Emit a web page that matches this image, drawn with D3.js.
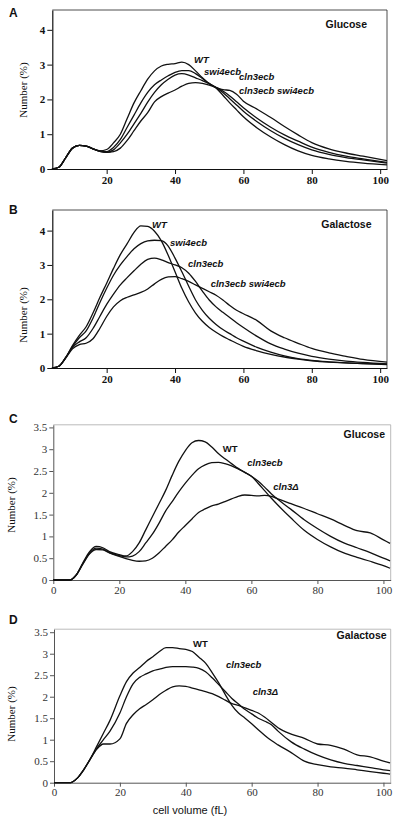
<!DOCTYPE html>
<html><head><meta charset="utf-8">
<script src="https://cdn.jsdelivr.net/npm/d3@7"></script>
<style>html,body{margin:0;padding:0;background:#fff;}svg{display:block;}</style>
</head><body>
<svg id="chart" width="400" height="822"></svg>
<script>
// ---------- DATA ----------
const xAB = [4,6,8,10,12,14,16,18,20,22,24,26,28,30,32,34,36,38,40,42,44,46,48,50,52,54,56,58,60,64,68,72,76,80,85,90,95,102];
const aWT      = [0,0.05,0.32,0.6,0.68,0.66,0.58,0.52,0.56,0.75,1.0,1.45,1.9,2.25,2.58,2.82,2.96,3.01,3.03,3.07,3.0,2.82,2.62,2.45,2.33,2.12,1.9,1.7,1.5,1.18,0.92,0.7,0.52,0.39,0.29,0.22,0.17,0.12];
const aSwi4    = [0,0.05,0.32,0.6,0.68,0.66,0.58,0.52,0.5,0.62,0.85,1.2,1.55,1.9,2.2,2.42,2.56,2.68,2.78,2.83,2.83,2.74,2.6,2.46,2.34,2.2,2.02,1.84,1.66,1.36,1.1,0.88,0.7,0.55,0.42,0.33,0.26,0.17];
const aCln3    = [0,0.05,0.32,0.6,0.68,0.66,0.58,0.51,0.48,0.55,0.75,1.0,1.3,1.6,1.92,2.2,2.42,2.58,2.7,2.74,2.7,2.62,2.54,2.45,2.35,2.24,2.1,1.93,1.76,1.46,1.2,0.98,0.8,0.63,0.48,0.37,0.29,0.19];
const aDouble  = [0,0.05,0.32,0.6,0.68,0.66,0.58,0.51,0.48,0.5,0.6,0.82,1.1,1.38,1.62,1.93,2.08,2.18,2.27,2.38,2.46,2.48,2.46,2.41,2.34,2.28,2.26,2.15,1.95,1.72,1.48,1.22,0.98,0.76,0.58,0.46,0.37,0.24];

const bWT      = [0,0.05,0.3,0.65,0.95,1.2,1.6,2.05,2.47,2.9,3.3,3.62,3.95,4.14,4.12,3.98,3.7,3.28,2.8,2.32,1.92,1.6,1.36,1.18,1.04,0.92,0.82,0.72,0.63,0.5,0.4,0.32,0.26,0.21,0.17,0.15,0.13,0.1];
const bSwi4    = [0,0.05,0.3,0.62,0.88,1.08,1.45,1.9,2.32,2.7,3.0,3.25,3.47,3.62,3.7,3.72,3.71,3.55,3.2,2.8,2.38,1.98,1.68,1.45,1.27,1.12,1.0,0.88,0.78,0.6,0.46,0.35,0.27,0.22,0.18,0.15,0.13,0.11];
const bCln3    = [0,0.05,0.3,0.6,0.76,0.88,1.15,1.5,1.85,2.15,2.42,2.63,2.83,3.02,3.16,3.2,3.15,3.07,3.0,2.92,2.76,2.52,2.24,1.98,1.78,1.62,1.47,1.32,1.18,0.92,0.7,0.55,0.43,0.34,0.26,0.2,0.16,0.12];
const bDouble  = [0,0.05,0.28,0.56,0.68,0.72,0.85,1.15,1.5,1.78,1.96,2.06,2.13,2.2,2.3,2.45,2.58,2.65,2.66,2.6,2.52,2.42,2.32,2.22,2.12,1.98,1.82,1.68,1.58,1.38,1.08,0.88,0.72,0.57,0.44,0.34,0.25,0.17];

const xCD = [0,5,7,9,11,13,15,17,20,22,24,26,28,30,32,34,36,38,40,42,44,46,48,50,52,54,56,58,60,62,64,66,68,72,76,80,84,88,92,96,100,102];
const cWT      = [0,0,0.12,0.4,0.65,0.77,0.74,0.65,0.58,0.55,0.65,0.85,1.15,1.45,1.75,2.05,2.4,2.72,2.97,3.15,3.2,3.17,3.05,2.9,2.78,2.67,2.56,2.47,2.38,2.22,2.05,1.88,1.72,1.42,1.14,0.93,0.76,0.62,0.52,0.43,0.33,0.27];
const cCln3ecb = [0,0,0.12,0.38,0.62,0.73,0.71,0.63,0.56,0.53,0.55,0.65,0.85,1.05,1.3,1.58,1.8,2.02,2.22,2.4,2.55,2.64,2.69,2.7,2.67,2.62,2.55,2.47,2.38,2.27,2.13,1.98,1.85,1.62,1.38,1.18,1.0,0.85,0.74,0.63,0.5,0.44];
const cCln3d   = [0,0,0.12,0.37,0.6,0.7,0.69,0.62,0.54,0.49,0.45,0.43,0.44,0.5,0.62,0.77,0.92,1.1,1.25,1.4,1.55,1.63,1.7,1.74,1.8,1.86,1.92,1.95,1.94,1.93,1.94,1.92,1.86,1.75,1.64,1.52,1.4,1.26,1.13,1.08,0.92,0.84];

const dWT      = [0,0,0.1,0.3,0.55,0.85,1.15,1.45,2.02,2.35,2.55,2.68,2.82,2.93,3.05,3.14,3.14,3.12,3.1,3.05,2.92,2.78,2.56,2.32,2.05,1.8,1.62,1.5,1.37,1.23,1.1,0.98,0.88,0.7,0.5,0.42,0.37,0.34,0.3,0.26,0.22,0.2];
const dCln3ecb = [0,0,0.1,0.3,0.55,0.8,1.0,1.2,1.62,2.0,2.3,2.45,2.53,2.6,2.64,2.68,2.7,2.7,2.7,2.69,2.66,2.58,2.44,2.28,2.12,1.96,1.83,1.7,1.6,1.5,1.43,1.35,1.2,0.95,0.78,0.64,0.53,0.45,0.4,0.35,0.3,0.28];
const dCln3d   = [0,0,0.1,0.3,0.55,0.78,0.9,0.9,1.02,1.38,1.58,1.72,1.82,1.93,2.05,2.15,2.23,2.25,2.24,2.2,2.16,2.12,2.07,2.0,1.92,1.84,1.8,1.74,1.68,1.62,1.52,1.4,1.28,1.13,1.03,0.9,0.87,0.78,0.65,0.6,0.5,0.46];

const ticksAB_y = [0,1,2,3,4];
const ticks_x_AB = [20,40,60,80,100];
const ticksCD_y = [0,0.5,1,1.5,2,2.5,3,3.5];
const ticks_x_CD = [0,20,40,60,80,100];

const seriesA = [aWT, aSwi4, aCln3, aDouble];
const seriesB = [bWT, bSwi4, bCln3, bDouble];
const seriesC = [cWT, cCln3ecb, cCln3d];
const seriesD = [dWT, dCln3ecb, dCln3d];

const labelsAB = ["WT","swi4ecb","cln3ecb","cln3ecb swi4ecb"];
const labelsCD = ["WT","cln3ecb","cln3\u0394"];

// ---------- DRAW ----------
const svg = d3.select("#chart");
const SANS = "'Liberation Sans', Arial, Helvetica, sans-serif";
const SERIF = "'Liberation Serif', 'Times New Roman', serif";

function panel(cfg){
  const g = svg.append("g");
  const x = d3.scaleLinear().domain(cfg.xd).range(cfg.xr);
  const y = d3.scaleLinear().domain(cfg.yd).range(cfg.yr);
  g.append("path")
    .attr("d", `M${cfg.xr[0]},${cfg.yr[1]}H${cfg.xr[1]}V${cfg.yr[0]}`)
    .attr("fill","none").attr("stroke", cfg.frame).attr("stroke-width", cfg.frameW);
  const ax = g.append("g").attr("transform",`translate(0,${cfg.yr[0]})`)
    .call(d3.axisBottom(x).tickValues(cfg.xt).tickSize(cfg.tick).tickSizeOuter(0).tickPadding(2).tickFormat(d3.format("")));
  const ay = g.append("g").attr("transform",`translate(${cfg.xr[0]},0)`)
    .call(d3.axisLeft(y).tickValues(cfg.yt).tickSize(cfg.tick).tickSizeOuter(0).tickPadding(2).tickFormat(d=>String(d)));
  [ax, ay].forEach(a=>{
    a.selectAll("path.domain").attr("stroke", cfg.axisColor).attr("stroke-width", cfg.axisW);
    a.selectAll(".tick line").attr("stroke", cfg.axisColor).attr("stroke-width", 1);
    a.selectAll(".tick text").attr("font-family", SERIF).attr("font-size", cfg.tickFont)
      .attr("fill", cfg.tickColor).attr("font-weight", cfg.tickWeight);
  });
  g.append("text").attr("transform",`translate(${cfg.ylx},${cfg.yly}) rotate(-90)`)
    .attr("text-anchor","middle").attr("font-family",SERIF).attr("font-size",cfg.ylFont)
    .attr("fill","#111").text("Number (%)");
  const line = d3.line().x((d,i)=>x(cfg.xs[i])).y(d=>y(d)).curve(d3.curveMonotoneX);
  cfg.series.forEach(s=>{
    g.append("path").datum(s).attr("d", line).attr("fill","none")
      .attr("stroke","#111").attr("stroke-width",1.3).attr("stroke-linejoin","round");
  });
  cfg.labels.forEach((t,i)=>{
    g.append("text").attr("x", cfg.lp[i][0]).attr("y", cfg.lp[i][1])
      .attr("font-family",SANS).attr("font-size",cfg.labFont).attr("font-weight","bold")
      .attr("font-style", (cfg.italicWT || i>0) ? "italic" : "normal")
      .attr("fill","#111").text(t);
  });
  g.append("text").attr("x", cfg.cond[0]).attr("y", cfg.cond[1]).attr("text-anchor","end")
    .attr("font-family",SANS).attr("font-size",10.5).attr("font-weight","bold").attr("fill","#111").text(cfg.condText);
  g.append("text").attr("x", 9).attr("y", cfg.letterY)
    .attr("font-family",SANS).attr("font-size",12).attr("font-weight","bold").attr("fill","#111").text(cfg.letter);
}

panel({letter:"A", letterY:17, xs:xAB, series:seriesA, labels:labelsAB,
  xd:[4.1,102], xr:[52.3,387], yd:[0,4.57], yr:[169,10], xt:ticks_x_AB, yt:ticksAB_y,
  tick:5, frame:"#222", frameW:0.8, axisColor:"#111", axisW:1.2, tickFont:11, tickColor:"#111", tickWeight:"bold",
  ylx:27, yly:90, ylFont:11, labFont:9.5, italicWT:true,
  lp:[[194,62.5],[204,74.5],[239,80],[239,94]], cond:[367,28], condText:"Glucose"});

panel({letter:"B", letterY:214, xs:xAB, series:seriesB, labels:labelsAB,
  xd:[4.1,102], xr:[52.3,387], yd:[0,4.6], yr:[368,210], xt:ticks_x_AB, yt:ticksAB_y,
  tick:5, frame:"#222", frameW:0.8, axisColor:"#111", axisW:1.2, tickFont:11, tickColor:"#111", tickWeight:"bold",
  ylx:27, yly:315, ylFont:11, labFont:9.5, italicWT:true,
  lp:[[152,228],[170,245.5],[188,267],[210.7,286.5]], cond:[371.5,227.5], condText:"Galactose"});

panel({letter:"C", letterY:423, xs:xCD, series:seriesC, labels:labelsCD,
  xd:[0,102.2], xr:[53.3,390.7], yd:[0,3.56], yr:[580,424.8], xt:ticks_x_CD, yt:ticksCD_y,
  tick:4, frame:"#aaa", frameW:0.8, axisColor:"#555", axisW:1, tickFont:11, tickColor:"#333", tickWeight:"normal",
  ylx:15, yly:505, ylFont:11, labFont:9.5, italicWT:false,
  lp:[[222.7,452],[247.3,466],[273.3,490]], cond:[385,438], condText:"Glucose"});

panel({letter:"D", letterY:624, xs:xCD, series:seriesD, labels:labelsCD,
  xd:[0,102.2], xr:[54,390.7], yd:[0,3.57], yr:[782.7,629.2], xt:ticks_x_CD, yt:ticksCD_y,
  tick:4, frame:"#aaa", frameW:0.8, axisColor:"#555", axisW:1, tickFont:11, tickColor:"#333", tickWeight:"normal",
  ylx:15, yly:714, ylFont:11, labFont:9.5, italicWT:false,
  lp:[[193,647],[226,668],[252.7,695]], cond:[386.7,639], condText:"Galactose"});

svg.append("text").attr("x",190).attr("y",814).attr("text-anchor","middle")
  .attr("font-family",SANS).attr("font-size",11).attr("fill","#111").text("cell volume (fL)");
</script>
</body></html>
